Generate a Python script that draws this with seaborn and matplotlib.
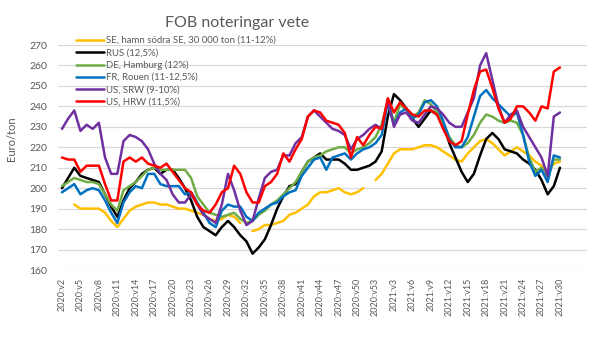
import numpy as np
import pandas as pd
import matplotlib
matplotlib.use("Agg")
import matplotlib.pyplot as plt
import seaborn as sns

nan = np.nan

# Week categories: 2020 v2..v53, 2021 v1..v30
weeks_2020 = list(range(2, 54))
weeks_2021 = list(range(1, 31))
categories = [f"2020:v{w}" for w in weeks_2020] + [f"2021:v{w}" for w in weeks_2021]

series_names = [
    "SE, hamn södra SE, 30 000 ton (11-12%)",
    "RUS (12,5%)",
    "DE, Hamburg (12%)",
    "FR, Rouen (11-12,5%)",
    "US, SRW (9-10%)",
    "US, HRW (11,5%)",
]
colors = ["#FFC000", "#000000", "#70AD47", "#0070C0", "#7030A0", "#FF0000"]

se = [nan, nan, 192, 190, 190, 190, 190, 188, 184, 181,
      185, 189, 191, 192, 193, 193, 192, 192, 191, 190,
      190, 189, 188, 187, 185, 184, 185, 187, 186, 183,
      nan, 179, 180, 182, 182, 183, 184, 187, 188, 190,
      192, 196, 198, 198, 199, 200, 198, 197, 198, 200,
      nan, 204, 207, 212, 217, 219, 219, 219, 220, 221,
      221, 220, 218, 216, 214, 213, 217, 220, 223, 224,
      222, 219, 216, 218, 220, 218, 216, 213, 211, 208,
      212, 213]

rus = [200, 205, 210, 206, 205, 204, 203, 197, 191, 186,
       194, 200, 203, 207, 209, 210, 207, 209, 209, 205,
       200, 194, 186, 181, 179, 177, 181, 184, 181, 177,
       174, 168, 171, 175, 182, 190, 196, 201, 202, 208,
       213, 215, 217, 214, 214, 214, 212, 209, 209, 210,
       211, 213, 218, 235, 246, 243, 239, 234, 230, 234,
       238, 236, 232, 222, 215, 208, 203, 207, 216, 224,
       227, 224, 219, 218, 217, 214, 212, 209, 204, 197,
       201, 210]

de = [201, 203, 205, 204, 203, 203, 202, 197, 192, 189,
      199, 201, 203, 206, 209, 210, 209, 209, 209, 209,
      209, 205, 196, 192, 188, 187, 186, 187, 188, 185,
      183, 184, 187, 189, 192, 194, 197, 200, 203, 208,
      213, 215, 216, 218, 219, 220, 220, 217, 219, 220,
      222, 225, 231, 243, 232, 241, 238, 235, 237, 243,
      241, 237, 232, 225, 221, 220, 222, 226, 232, 236,
      235, 233, 232, 233, 232, 226, 215, 208, 210, 205,
      214, 214]

fr = [198, 200, 202, 197, 199, 200, 199, 194, 188, 183,
      193, 198, 201, 200, 207, 207, 202, 201, 201, 201,
      197, 198, 193, 188, 183, 181, 189, 192, 191, 191,
      186, 184, 188, 190, 192, 193, 196, 198, 199, 206,
      210, 214, 215, 209, 215, 216, 217, 214, 217, 219,
      220, 222, 226, 242, 231, 237, 239, 234, 236, 242,
      243, 240, 233, 224, 220, 220, 225, 235, 245, 248,
      244, 241, 238, 235, 237, 226, 213, 206, 209, 203,
      216, 215]

srw = [229, 234, 238, 228, 231, 229, 232, 215, 207, 207,
       223, 226, 225, 223, 219, 212, 207, 204, 197, 193,
       193, 197, 192, 187, 185, 183, 192, 207, 199, 189,
       182, 184, 195, 205, 208, 209, 216, 216, 222, 225,
       235, 238, 235, 232, 229, 228, 226, 219, 224, 226,
       229, 231, 229, 243, 230, 236, 237, 233, 232, 236,
       240, 239, 236, 232, 230, 230, 237, 244, 260, 266,
       253, 240, 232, 236, 238, 230, 225, 220, 215, 206,
       235, 237]

hrw = [215, 214, 214, 208, 211, 211, 211, 202, 194, 194,
       213, 215, 213, 215, 212, 211, 210, 212, 208, 204,
       200, 198, 192, 189, 188, 192, 198, 200, 211, 207,
       198, 193, 193, 201, 203, 207, 217, 213, 219, 224,
       235, 238, 237, 233, 232, 231, 227, 215, 225, 221,
       226, 230, 229, 244, 237, 242, 239, 236, 235, 238,
       238, 236, 229, 223, 221, 223, 236, 248, 257, 258,
       249, 239, 232, 234, 240, 240, 237, 233, 240, 239,
       257, 259]

y_ticks = [160, 170, 180, 190, 200, 210, 220, 230, 240, 250, 260, 270]

# Build long-form data, splitting at gaps so that missing weeks stay gaps
rows = []
for name, vals in zip(series_names, [se, rus, de, fr, srw, hrw]):
    seg = 0
    for i, v in enumerate(vals):
        if np.isnan(v):
            seg += 1
            continue
        rows.append({"x": i, "value": v, "series": name, "seg": f"{name}_{seg}"})
df = pd.DataFrame(rows)

sns.set_theme(style="white")
plt.rcParams["font.family"] = ["Lato", "DejaVu Sans"]

gray = "#595959"
fig = plt.figure(figsize=(6.05, 3.39), dpi=100)
ax = fig.add_axes([58 / 605, 1 - 270 / 339, (587 - 58) / 605, (270 - 45) / 339])

sns.lineplot(data=df, x="x", y="value", hue="series", units="seg",
             estimator=None, hue_order=series_names,
             palette=dict(zip(series_names, colors)),
             linewidth=1.8, ax=ax, sort=True)

ax.set_xlim(-0.65, 85.4)
ax.set_ylim(160, 270)
ax.set_yticks(y_ticks)
ax.set_yticklabels([str(t) for t in y_ticks], fontsize=7.5, color=gray)
xt = list(range(0, len(categories), 3))
ax.set_xticks(xt)
ax.set_xticklabels([categories[i] for i in xt], rotation=90, fontsize=6.5, color=gray)
ax.tick_params(axis="x", length=0, pad=5.5)
ax.tick_params(axis="y", length=0, pad=8)
ax.grid(axis="y", color="#D9D9D9", linewidth=0.9)
ax.set_axisbelow(True)
for s in ax.spines.values():
    s.set_visible(False)
ax.set_xlabel("")
ax.set_ylabel("")

handles, labels = ax.get_legend_handles_labels()
if ax.get_legend() is not None:
    ax.get_legend().remove()
leg = fig.legend(handles, labels, loc="upper left",
                 bbox_to_anchor=(76 / 605, 1 - 36 / 339), frameon=False,
                 fontsize=6.9, handlelength=2.9, handletextpad=0.2,
                 labelspacing=0.33, borderpad=0, borderaxespad=0)
for t in leg.get_texts():
    t.set_color(gray)
for h in leg.legend_handles:
    h.set_linewidth(1.8)

fig.text(12 / 605, 1 - 139 / 339, "Euro/ton", rotation=90, ha="center",
         va="center", fontsize=8, color=gray)
fig.text(237 / 605, 1 - 23 / 339, "FOB noteringar vete", ha="center",
         va="center", fontsize=11.5, color=gray)

fig.savefig("out.png", dpi=100)
